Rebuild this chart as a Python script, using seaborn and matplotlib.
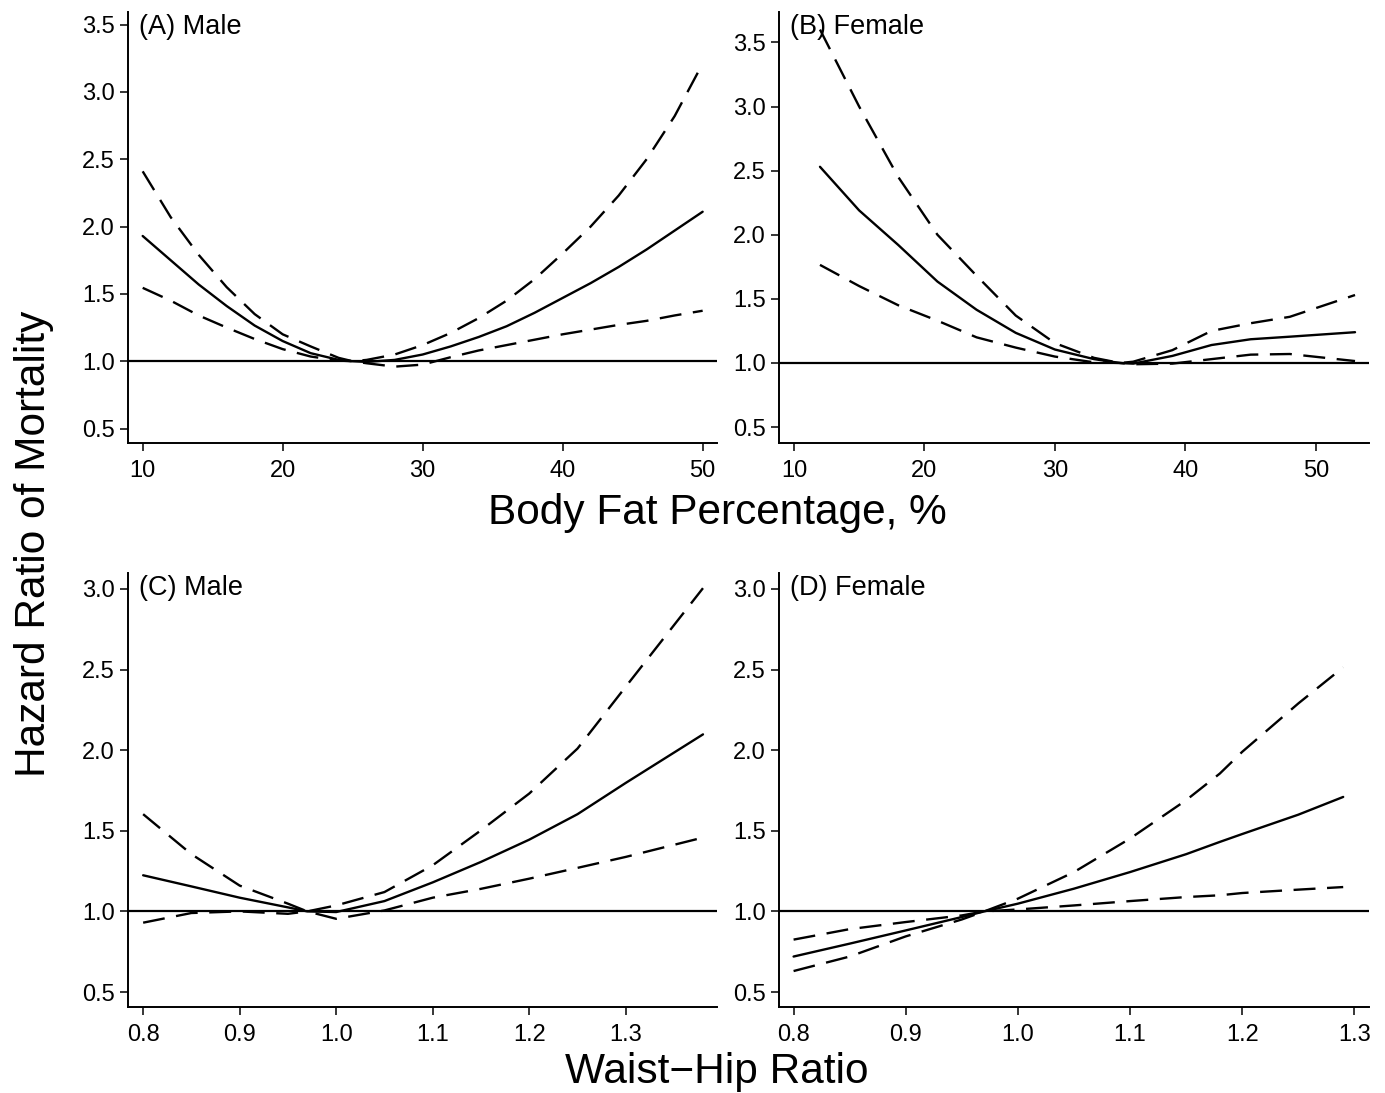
import numpy as np
import pandas as pd
import matplotlib
matplotlib.use("Agg")
import matplotlib.pyplot as plt
import seaborn as sns

# ---------------- data ----------------
# (A) Male, body fat %
a_x = [10, 12, 14, 16, 18, 20, 22, 24, 25, 26, 28, 30, 32, 34, 36, 38, 40, 42, 44, 46, 48, 50]
a_hr = [1.93, 1.75, 1.57, 1.41, 1.265, 1.15, 1.06, 1.01, 1.0, 0.995, 1.01, 1.05, 1.11, 1.18, 1.26, 1.36, 1.47, 1.58, 1.70, 1.83, 1.97, 2.11]
a_hi = [2.41, 2.07, 1.79, 1.55, 1.35, 1.20, 1.11, 1.025, 1.0, 1.01, 1.05, 1.12, 1.21, 1.32, 1.45, 1.61, 1.80, 2.00, 2.23, 2.50, 2.82, 3.21]
a_lo = [1.545, 1.45, 1.34, 1.25, 1.165, 1.09, 1.035, 1.005, 1.0, 0.985, 0.96, 0.975, 1.03, 1.08, 1.12, 1.16, 1.20, 1.235, 1.27, 1.30, 1.34, 1.375]

# (B) Female, body fat %
b_x = [12, 15, 18, 21, 24, 27, 30, 33, 35, 36, 39, 42, 45, 48, 53]
b_hr = [2.53, 2.19, 1.92, 1.635, 1.415, 1.235, 1.105, 1.03, 1.0, 0.995, 1.055, 1.14, 1.185, 1.205, 1.24]
b_hi = [3.60, 3.00, 2.45, 2.00, 1.68, 1.37, 1.155, 1.04, 1.0, 1.01, 1.10, 1.25, 1.31, 1.36, 1.53]
b_lo = [1.765, 1.60, 1.45, 1.33, 1.20, 1.12, 1.05, 1.005, 1.0, 0.99, 0.995, 1.03, 1.065, 1.07, 1.015]

# (C) Male, waist-hip ratio
c_x = [0.80, 0.85, 0.90, 0.95, 0.97, 1.00, 1.05, 1.10, 1.15, 1.20, 1.25, 1.30, 1.38]
c_hr = [1.224, 1.155, 1.085, 1.025, 1.0, 0.996, 1.064, 1.18, 1.307, 1.445, 1.603, 1.797, 2.098]
c_b1 = [1.603, 1.355, 1.16, 1.048, 1.0, 0.954, 1.006, 1.085, 1.14, 1.203, 1.27, 1.338, 1.458]
c_b2 = [0.93, 0.99, 1.0, 0.985, 1.0, 1.037, 1.12, 1.286, 1.503, 1.731, 2.01, 2.394, 3.005]

# (D) Female, waist-hip ratio
d_x = [0.80, 0.85, 0.90, 0.95, 0.97, 1.00, 1.05, 1.10, 1.15, 1.18, 1.20, 1.25, 1.29]
d_hr = [0.72, 0.80, 0.882, 0.965, 1.0, 1.048, 1.141, 1.244, 1.355, 1.431, 1.48, 1.60, 1.71]
d_b1 = [0.825, 0.89, 0.934, 0.975, 1.0, 1.012, 1.037, 1.064, 1.089, 1.10, 1.114, 1.135, 1.151]
d_b2 = [0.63, 0.72, 0.845, 0.95, 1.0, 1.079, 1.244, 1.452, 1.69, 1.855, 1.99, 2.29, 2.514]

panel_titles = ["(A) Male", "(B) Female", "(C) Male", "(D) Female"]
bf_ticks = [10, 20, 30, 40, 50]
whr_ticks = [0.8, 0.9, 1.0, 1.1, 1.2, 1.3]
top_yticks = [0.5, 1.0, 1.5, 2.0, 2.5, 3.0, 3.5]
bot_yticks = [0.5, 1.0, 1.5, 2.0, 2.5, 3.0]
x_label_top = "Body Fat Percentage, %"
x_label_bot = "Waist\u2212Hip Ratio"
y_label = "Hazard Ratio of Mortality"

# ---------------- style ----------------
sns.set_style("ticks")
plt.rcParams["font.family"] = ["Liberation Sans", "DejaVu Sans"]
plt.rcParams["text.color"] = "black"
plt.rcParams["axes.labelcolor"] = "black"
plt.rcParams["axes.linewidth"] = 1.4
plt.rcParams["xtick.major.width"] = 1.1
plt.rcParams["ytick.major.width"] = 1.1
plt.rcParams["xtick.major.size"] = 5.8
plt.rcParams["ytick.major.size"] = 5.8
plt.rcParams["xtick.color"] = "black"
plt.rcParams["ytick.color"] = "black"
plt.rcParams["xtick.labelcolor"] = "black"
plt.rcParams["ytick.labelcolor"] = "black"
plt.rcParams["axes.edgecolor"] = "black"

W, H = 1385, 1093
fig = plt.figure(figsize=(W / 100, H / 100), dpi=100)

def frac_rect(l, r, t, b):
    return [l / W, 1 - b / H, (r - l) / W, (b - t) / H]

rects = [
    frac_rect(127.7, 716.5, 12, 443),
    frac_rect(779, 1369, 12, 443),
    frac_rect(127.7, 716.5, 573, 1007),
    frac_rect(779, 1369, 573, 1007),
]
xlims = [(8.93, 50.99), (8.86, 54.07), (0.784, 1.394), (0.787, 1.313)]
ylims = [(0.393, 3.593), (0.376, 3.737), (0.407, 3.099), (0.407, 3.099)]

panels = [
    (a_x, a_hr, a_hi, a_lo),
    (b_x, b_hr, b_hi, b_lo),
    (c_x, c_hr, c_b1, c_b2),
    (d_x, d_hr, d_b1, d_b2),
]

dash = (9.3, 4.9)
lw = 1.7
for i, (xs, est, b1, b2) in enumerate(panels):
    ax = fig.add_axes(rects[i])
    df = pd.DataFrame({
        "x": list(xs) * 3,
        "hr": list(est) + list(b1) + list(b2),
        "kind": ["est"] * len(xs) + ["b1"] * len(xs) + ["b2"] * len(xs),
    })
    ax.axhline(1.0, color="black", lw=1.6, zorder=1)
    sns.lineplot(data=df, x="x", y="hr", style="kind", units="kind",
                 estimator=None, sort=False, color="black", lw=lw,
                 dashes={"est": "", "b1": dash, "b2": dash},
                 legend=False, ax=ax, zorder=2)
    ax.set_xlim(*xlims[i])
    ax.set_ylim(*ylims[i])
    ax.set_xticks(bf_ticks if i < 2 else whr_ticks)
    ax.set_yticks(top_yticks if i < 2 else bot_yticks)
    if i < 2:
        ax.set_xticklabels([str(t) for t in bf_ticks])
    else:
        ax.set_xticklabels([f"{t:.1f}" for t in whr_ticks])
    ax.set_yticklabels([f"{t:.1f}" for t in (top_yticks if i < 2 else bot_yticks)])
    ax.tick_params(axis="x", labelsize=17, pad=6.5, direction="out")
    ax.tick_params(axis="y", labelsize=17, pad=3.5, direction="out")
    ax.set_xlabel("")
    ax.set_ylabel("")
    sns.despine(ax=ax)
    ax.text(0.019, 0.995, panel_titles[i], transform=ax.transAxes,
            ha="left", va="top", fontsize=19.5)

fig.text(717 / W, 1 - 524 / H, x_label_top, ha="center", va="baseline", fontsize=30.5)
fig.text(717 / W, 1 - 1083 / H, x_label_bot, ha="center", va="baseline", fontsize=30.5)
fig.text(34 / W, 549 / H, y_label, ha="center", va="center", rotation=90, fontsize=30.5)

fig.savefig("out.png", dpi=100)
